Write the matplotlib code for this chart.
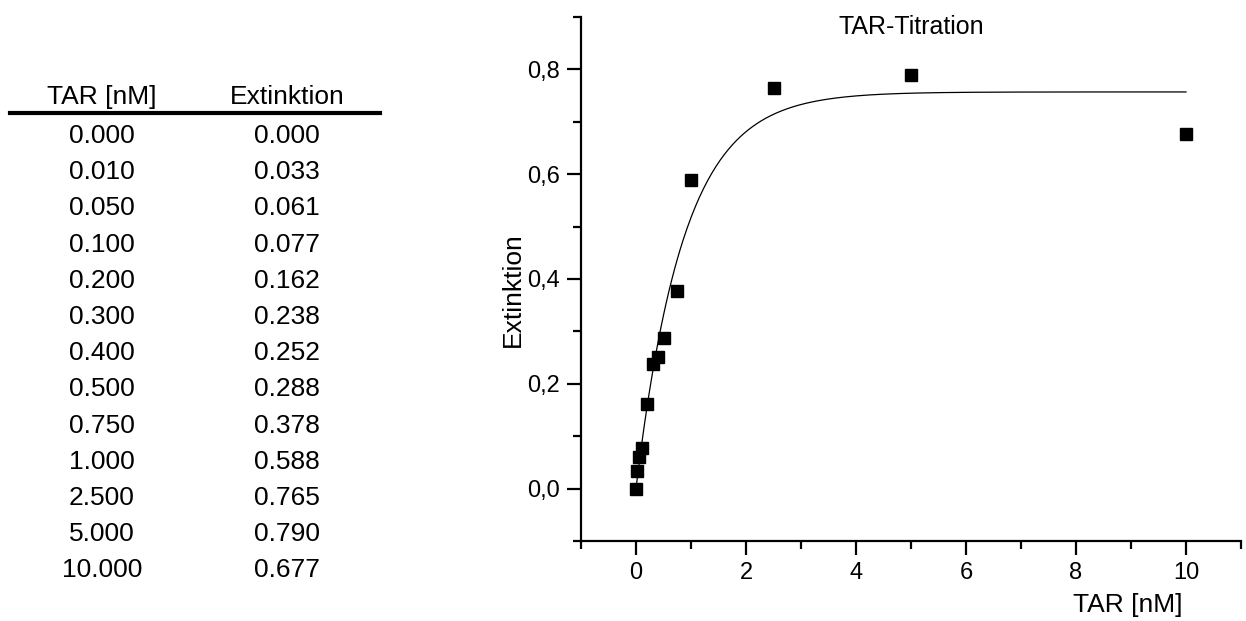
import numpy as np
import matplotlib
matplotlib.use("Agg")
import matplotlib.pyplot as plt
from matplotlib.ticker import MultipleLocator, FuncFormatter

plt.rcParams['font.family'] = ['Liberation Sans', 'DejaVu Sans']

tar_nM = [0.000, 0.010, 0.050, 0.100, 0.200, 0.300, 0.400, 0.500, 0.750, 1.000, 2.500, 5.000, 10.000]
extinktion = [0.000, 0.033, 0.061, 0.077, 0.162, 0.238, 0.252, 0.288, 0.378, 0.588, 0.765, 0.790, 0.677]
col_headers = ["TAR [nM]", "Extinktion"]
title = "TAR-Titration"
xlabel = "TAR [nM]"
ylabel = "Extinktion"
# exponential saturation fit parameters: y = A * (1 - exp(-k x))
fit_A = 0.757
fit_k = 1.15

W, H = 1246, 621
fig = plt.figure(figsize=(W / 100, H / 100), dpi=100)

def fx(px):
    return px / W

def fy(py):
    return 1 - py / H

# ---- table ----
fs = 19
col_x = [102, 287]
fig.text(fx(col_x[0]), fy(97), col_headers[0], ha='center', va='center', fontsize=fs)
fig.text(fx(col_x[1]), fy(97), col_headers[1], ha='center', va='center', fontsize=fs)
fig.add_artist(plt.Line2D([fx(10), fx(380)], [fy(113), fy(113)], color='black', lw=3))
row0, row_step = 136, 36.2
for i, (a, b) in enumerate(zip(tar_nM, extinktion)):
    y = row0 + i * row_step
    fig.text(fx(col_x[0]), fy(y), f"{a:.3f}", ha='center', va='center', fontsize=fs)
    fig.text(fx(col_x[1]), fy(y), f"{b:.3f}", ha='center', va='center', fontsize=fs)

# ---- chart ----
left, right, top, bottom = 581, 1241, 17, 541
ax = fig.add_axes([fx(left), fy(bottom), (right - left) / W, (bottom - top) / H])
xs = np.linspace(0, 10, 400)
ax.plot(xs, fit_A * (1 - np.exp(-fit_k * xs)), color='black', lw=0.9)
ax.plot(tar_nM, extinktion, 's', color='black', markersize=8, zorder=3)

ax.set_xlim(-1, 11)
ax.set_ylim(-0.1, 0.9)
for s in ['top', 'right']:
    ax.spines[s].set_visible(False)
for s in ['left', 'bottom']:
    ax.spines[s].set_linewidth(1.6)
ax.xaxis.set_major_locator(MultipleLocator(2))
ax.xaxis.set_minor_locator(MultipleLocator(1))
ax.yaxis.set_major_locator(MultipleLocator(0.2))
ax.yaxis.set_minor_locator(MultipleLocator(0.1))
ax.yaxis.set_major_formatter(FuncFormatter(lambda v, p: f"{v:.1f}".replace('.', ',')))
ax.tick_params(which='major', direction='out', length=10, width=1.6, labelsize=17, pad=5)
ax.tick_params(which='minor', direction='out', length=6, width=1.6)

fig.text(fx(911), fy(27), title, ha='center', va='center', fontsize=18)
fig.text(fx(1128), fy(605), xlabel, ha='center', va='center', fontsize=19)
fig.text(fx(513), fy(290), ylabel, ha='center', va='center', fontsize=19, rotation=90)

fig.savefig("out.png", dpi=100)
